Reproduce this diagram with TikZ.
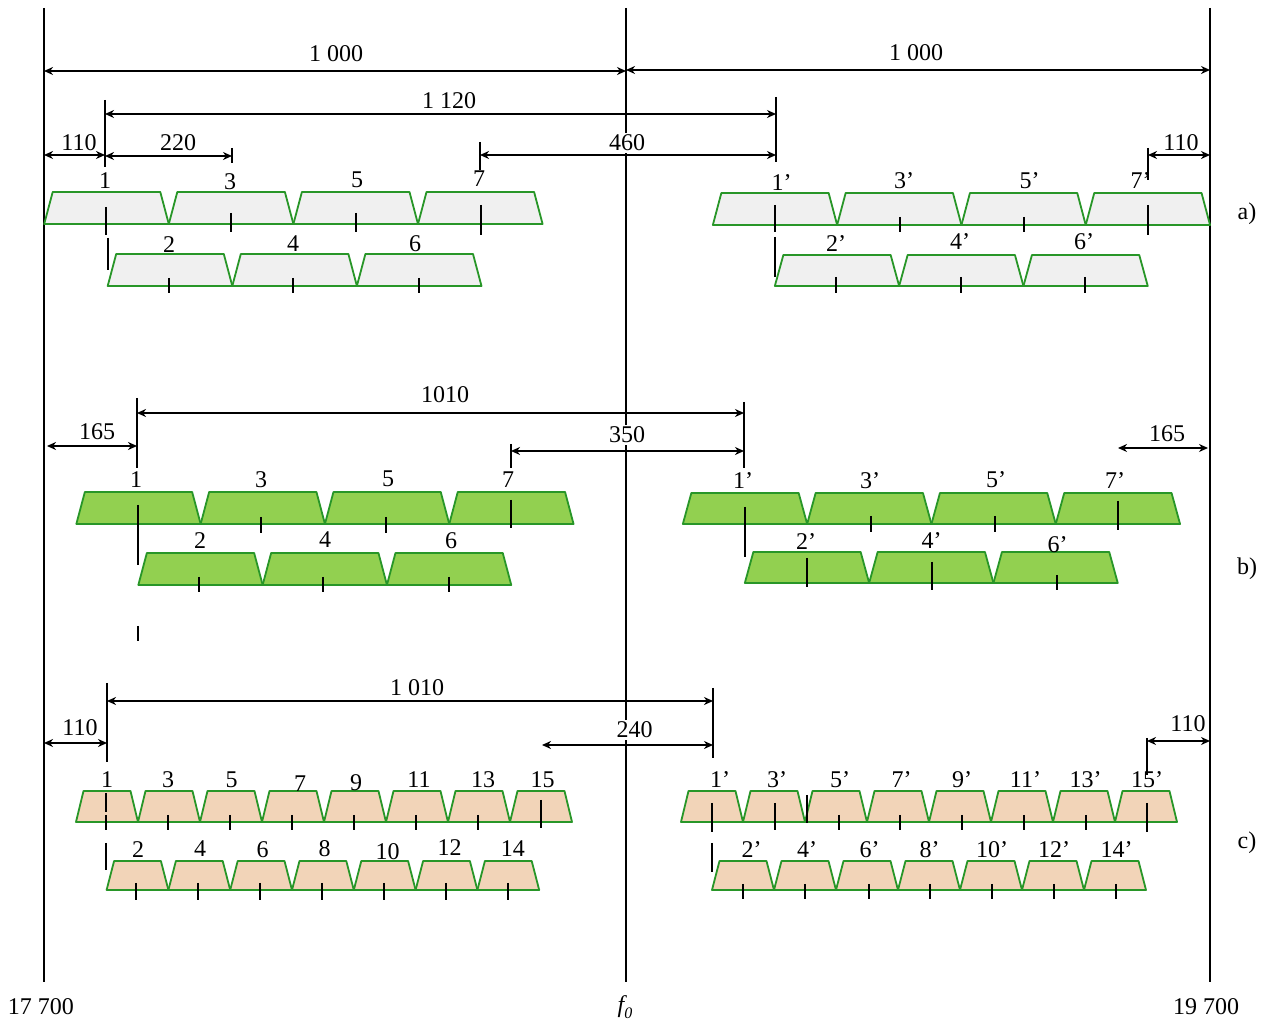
\documentclass[tikz,border=0pt]{standalone}
\usepackage{fontspec}
\setmainfont{Liberation Serif}
\usetikzlibrary{arrows.meta}
\definecolor{gstroke}{RGB}{40,150,40}
\definecolor{fillA}{RGB}{240,240,240}
\definecolor{fillB}{RGB}{146,208,80}
\definecolor{fillC}{RGB}{242,212,184}
\newcommand\trapz[6]{\draw[#6] ({#1-#4},#3) -- ({#1-#4+#5},#2) -- ({#1+#4-#5},#2) -- ({#1+#4},#3) -- cycle;}
\newcommand\dimln[7]{%
  \coordinate (#1-l) at (#2,#4); \coordinate (#1-r) at (#3,#4);
  \draw[dimarr] (#1-l) -- (#1-r);
  \node[lab,#7] (#1-t) at #6 {#5};}
\begin{document}
\begin{tikzpicture}[x=0.5pt,y=-0.5pt,
  frame/.style={line width=1pt,black},
  dimarr/.style={line width=0.9pt,{Stealth[length=4.5pt,width=4pt]}-{Stealth[length=4.5pt,width=4pt]}},
  tk/.style={line width=1pt,black},
  lab/.style={inner sep=0pt,font=\fontsize{12}{12}\selectfont},
  trA/.style={draw=gstroke,fill=fillA,line width=0.9pt,line join=round},
  trB/.style={draw=gstroke,fill=fillB,line width=0.9pt,line join=round},
  trC/.style={draw=gstroke,fill=fillC,line width=0.9pt,line join=round}]
\fill[white] (0,0) rectangle (1271,1021);
\useasboundingbox (0,0) rectangle (1271,1021);

% frame lines
\coordinate (L-top) at (44,8); \coordinate (L-bot) at (44,982);
\coordinate (C-top) at (626,8); \coordinate (C-bot) at (626,982);
\coordinate (R-top) at (1210,8); \coordinate (R-bot) at (1210,982);
\draw[frame] (L-top) -- (L-bot);
\draw[frame] (C-top) -- (C-bot);
\draw[frame] (R-top) -- (R-bot);
\node[lab] (f17700) at (41,1006.5) {17 700};
\node[lab] (f0) at (625,1007) {\itshape f\raisebox{-0.25em}{\fontsize{8}{8}\selectfont 0}};
\node[lab] (f19700) at (1206,1006.5) {19 700};

% ===================== a) =====================
\foreach \c in {106.5,231.1,355.7,480.3} {\trapz{\c}{192}{224}{62.3}{8.5}{trA}}
\foreach \c in {170,294.6,419.2} {\trapz{\c}{254}{286}{62.3}{8.5}{trA}}
\foreach \c in {775,899.3,1023.6,1147.9} {\trapz{\c}{193}{225}{62.15}{8.5}{trA}}
\foreach \c in {837,961.3,1085.6} {\trapz{\c}{255}{286}{62.15}{8.5}{trA}}
% extension lines
\draw[tk] (105,100) -- (105,167);
\draw[tk] (776,97) -- (776,162);
\draw[tk] (232,148) -- (232,163);
\draw[tk] (480,142) -- (480,170);
\draw[tk] (1148,148) -- (1148,180);
% channel ticks
\draw[tk] (106,207) -- (106,235);
\foreach \x in {231,356} \draw[tk] (\x,213) -- (\x,232);
\draw[tk] (481,205) -- (481,235);
\draw[tk] (108,238) -- (108,270);
\foreach \x in {169,293,419} \draw[tk] (\x,278) -- (\x,293);
\draw[tk] (775,205) -- (775,232);
\foreach \x in {900,1024} \draw[tk] (\x,217) -- (\x,232);
\draw[tk] (1148,205) -- (1148,235);
\draw[tk] (775,237) -- (775,277);
\foreach \x in {836,961,1085} \draw[tk] (\x,277) -- (\x,293);
% dimensions
\dimln{dA1}{44}{626}{71}{1 000}{(336,54)}{}
\dimln{dA2}{626}{1210}{70}{1 000}{(916,53)}{}
\dimln{dA3}{105}{776}{114}{1 120}{(449,101)}{}
\dimln{dA4}{44}{105}{155}{110}{(79,143)}{}
\dimln{dA5}{105}{232}{156}{220}{(178,143)}{}
\dimln{dA6}{480}{776}{155}{460}{(627,143)}{fill=white,inner sep=1pt}
\dimln{dA7}{1148}{1210}{155}{110}{(1181,143)}{}
% labels
\foreach \x/\y/\t [count=\i] in {105/180.5/1,230/182/3,357/179.5/5,479/179/7}
  \node[lab] (aL\i) at (\x,\y) {\t};
\foreach \x/\y/\t [count=\i] in {169/245/2,293/244/4,415/244/6}
  \node[lab] (aLl\i) at (\x,\y) {\t};
\foreach \x/\y/\t [count=\i] in {781.5/182.5/1’,904/181/3’,1029.6/181/5’,1140.5/181/7’}
  \node[lab] (aR\i) at (\x,\y) {\t};
\foreach \x/\y/\t [count=\i] in {836/243.5/2’,960/242/4’,1084/242/6’}
  \node[lab] (aRl\i) at (\x,\y) {\t};
\node[lab] (secA) at (1247,214) {a)};

% ===================== b) =====================
\foreach \c in {138.5,262.8,387.1,511.4} {\trapz{\c}{492}{524}{62.15}{8.5}{trB}}
\foreach \c in {200.5,324.8,449.1} {\trapz{\c}{553}{585}{62.15}{8.5}{trB}}
\foreach \c in {745,869.3,993.6,1117.9} {\trapz{\c}{493}{524}{62.15}{8.5}{trB}}
\foreach \c in {807,931.3,1055.6} {\trapz{\c}{552}{583}{62.15}{8.5}{trB}}
\draw[tk] (137,398) -- (137,468);
\draw[tk] (744,402) -- (744,468);
\draw[tk] (511,444) -- (511,468);
\draw[tk] (138,505) -- (138,565);
\draw[tk] (138,626) -- (138,641);
\foreach \x in {261,386} \draw[tk] (\x,517) -- (\x,533);
\draw[tk] (511,500) -- (511,528);
\foreach \x in {199,323,449} \draw[tk] (\x,577) -- (\x,592);
\draw[tk] (745,507) -- (745,557);
\foreach \x in {871,995} \draw[tk] (\x,516) -- (\x,532);
\draw[tk] (1118,501) -- (1118,530);
\draw[tk] (807,558) -- (807,587);
\draw[tk] (932,562) -- (932,590);
\draw[tk] (1057,575) -- (1057,590);
\dimln{dB1}{137}{744}{413}{1010}{(445,395)}{}
\dimln{dB2}{47}{137}{446}{165}{(97,431.5)}{}
\dimln{dB3}{511}{744}{451}{350}{(627,435)}{fill=white,inner sep=1pt}
\dimln{dB4}{1118}{1208}{448}{165}{(1167,434)}{}
\foreach \x/\y/\t [count=\i] in {136/480/1,261/479.5/3,388/479/5,508/479.5/7}
  \node[lab] (bL\i) at (\x,\y) {\t};
\foreach \x/\y/\t [count=\i] in {200/540.5/2,325/540/4,451/541/6}
  \node[lab] (bLl\i) at (\x,\y) {\t};
\foreach \x/\y/\t [count=\i] in {743/481/1’,870/481/3’,996/480/5’,1115/481/7’}
  \node[lab] (bR\i) at (\x,\y) {\t};
\foreach \x/\y/\t [count=\i] in {806/542/2’,931.6/541/4’,1057.5/545/6’}
  \node[lab] (bRl\i) at (\x,\y) {\t};
\node[lab] (secB) at (1247,569) {b)};

% ===================== c) =====================
\foreach \k in {0,...,7} {\trapz{107+62*\k}{791}{822}{31}{7.5}{trC}}
\foreach \k in {0,...,6} {\trapz{137.5+61.8*\k}{861}{890}{30.9}{7.5}{trC}}
\foreach \k in {0,...,7} {\trapz{712+62*\k}{791}{822}{31}{7.5}{trC}}
\foreach \k in {0,...,6} {\trapz{743+62*\k}{861}{890}{31}{7.5}{trC}}
\draw[tk] (107,683) -- (107,762);
\draw[tk] (713,688) -- (713,758);
\draw[tk] (1147,738) -- (1147,775);
\draw[tk] (106,793) -- (106,812);
\foreach \x in {106,168,229.6,291.6,353.6,415.6,478} \draw[tk] (\x,815) -- (\x,830);
\draw[tk] (541,800) -- (541,828);
\draw[tk] (106,843) -- (106,870);
\foreach \k in {0,...,6} \draw[tk] (135.5+62.1*\k,883) -- (135.5+62.1*\k,900);
\draw[tk] (712,803) -- (712,832);
\draw[tk] (775,803) -- (775,830);
\draw[tk] (807,795) -- (807,823);
\foreach \x in {839,900,961.5,1024,1086} \draw[tk] (\x,815) -- (\x,830);
\draw[tk] (1147,803) -- (1147,832);
\draw[tk] (712,843) -- (712,872);
\foreach \x in {742.6,805,869,929.7,992,1053.6,1116} \draw[tk] (\x,884) -- (\x,899);
\dimln{dC1}{107}{713}{701}{1 010}{(417,688)}{}
\dimln{dC2}{44}{107}{743}{110}{(80,728)}{}
\dimln{dC3}{542}{713}{745}{240}{(634.5,730)}{fill=white,inner sep=1pt}
\dimln{dC4}{1147}{1210}{741}{110}{(1188,724)}{}
\foreach \x/\y/\t [count=\i] in {107/780/1,168/780/3,231.5/780/5,300/784/7,356/783/9,419/780/11,483/780/13,542.7/780/15}
  \node[lab] (cL\i) at (\x,\y) {\t};
\foreach \x/\y/\t [count=\i] in {138/850/2,200/849/4,262.5/850/6,324.5/849/8,387.7/852/10,449.7/848/12,512.8/849/14}
  \node[lab] (cLl\i) at (\x,\y) {\t};
\foreach \x/\y/\t [count=\i] in {720/780/1’,777/780/3’,840/780/5’,901.6/780/7’,962/780/9’,1025.5/780/11’,1085.6/780/13’,1147/780/15’}
  \node[lab] (cR\i) at (\x,\y) {\t};
\foreach \x/\y/\t [count=\i] in {751.6/850/2’,807/850/4’,869.7/850/6’,929.7/850/8’,992/850/10’,1054/850/12’,1116.7/850/14’}
  \node[lab] (cRl\i) at (\x,\y) {\t};
\node[lab] (secC) at (1247,843) {c)};
\end{tikzpicture}
\end{document}
